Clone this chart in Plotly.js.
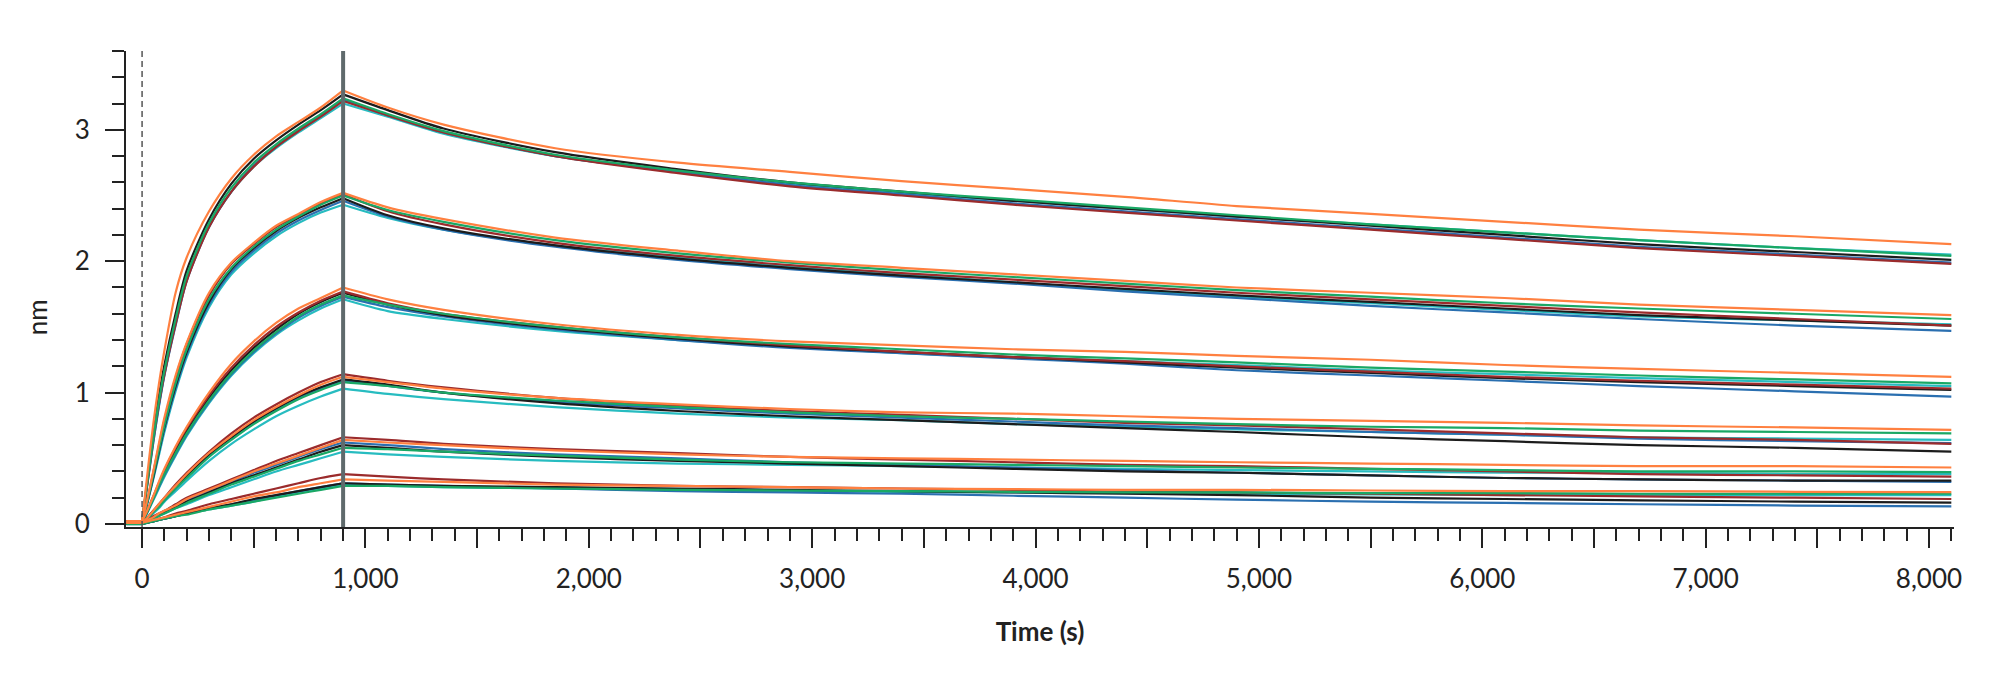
<!DOCTYPE html>
<html>
<head>
<meta charset="utf-8">
<script src="https://cdn.plot.ly/plotly-3.0.1.min.js"></script>
<style>
  html, body { margin: 0; padding: 0; background: #fff; }
  #chart { width: 2000px; height: 676px; }
</style>
</head>
<body>
<div id="chart"></div>
<script>
// sample times (s): baseline + association (to 900 s), then dissociation
var tAssoc = [-70, 0, 25, 50, 75, 100, 150, 200, 300, 400, 500, 600, 700, 800, 900];
var tDissoc = [1100, 1350, 1850, 2400, 2900, 3400, 3900, 4400, 4900, 5500, 6100, 6700, 7400, 8100];

// response (nm), one array per sensor colour and concentration (1 = highest)
var orange1 = [0.02, 0.02, 0.40, 0.76, 1.06, 1.32, 1.76, 2.03, 2.38, 2.63, 2.81, 2.95, 3.06, 3.17, 3.30, 3.17, 3.04, 2.86, 2.75, 2.68, 2.61, 2.55, 2.49, 2.42, 2.36, 2.30, 2.24, 2.19, 2.13];
var black1 = [0.02, 0.02, 0.35, 0.68, 0.97, 1.21, 1.60, 1.93, 2.32, 2.59, 2.78, 2.92, 3.04, 3.15, 3.27, 3.15, 3.01, 2.83, 2.70, 2.60, 2.53, 2.46, 2.40, 2.34, 2.27, 2.20, 2.13, 2.07, 2.01];
var red1 = [0.02, 0.02, 0.33, 0.64, 0.91, 1.14, 1.52, 1.85, 2.26, 2.53, 2.72, 2.87, 2.99, 3.10, 3.22, 3.11, 2.98, 2.80, 2.67, 2.57, 2.50, 2.43, 2.37, 2.31, 2.24, 2.17, 2.10, 2.04, 1.98];
var blue1 = [0.01, 0.01, 0.32, 0.62, 0.89, 1.13, 1.51, 1.85, 2.26, 2.53, 2.73, 2.87, 3.00, 3.11, 3.23, 3.11, 2.98, 2.80, 2.68, 2.58, 2.51, 2.44, 2.38, 2.32, 2.25, 2.18, 2.11, 2.05, 1.99];
var teal1 = [0.01, 0.01, 0.32, 0.62, 0.90, 1.14, 1.53, 1.86, 2.27, 2.53, 2.72, 2.86, 2.98, 3.09, 3.20, 3.10, 2.97, 2.80, 2.68, 2.59, 2.52, 2.46, 2.40, 2.34, 2.28, 2.22, 2.16, 2.10, 2.05];
var green1 = [0.02, 0.02, 0.34, 0.65, 0.93, 1.17, 1.56, 1.89, 2.29, 2.56, 2.75, 2.89, 3.01, 3.12, 3.24, 3.12, 2.99, 2.81, 2.69, 2.60, 2.53, 2.47, 2.41, 2.35, 2.28, 2.22, 2.16, 2.10, 2.04];

var orange2 = [0.02, 0.02, 0.20, 0.40, 0.61, 0.81, 1.13, 1.38, 1.76, 1.99, 2.14, 2.27, 2.36, 2.45, 2.52, 2.41, 2.32, 2.18, 2.08, 2.00, 1.95, 1.90, 1.85, 1.80, 1.76, 1.72, 1.67, 1.63, 1.59];
var red2 = [0.02, 0.02, 0.19, 0.39, 0.59, 0.79, 1.11, 1.37, 1.74, 1.98, 2.13, 2.26, 2.35, 2.44, 2.51, 2.38, 2.28, 2.14, 2.04, 1.97, 1.91, 1.86, 1.81, 1.76, 1.71, 1.66, 1.61, 1.56, 1.51];
var black2 = [0.01, 0.01, 0.18, 0.36, 0.55, 0.74, 1.05, 1.31, 1.69, 1.94, 2.10, 2.23, 2.33, 2.41, 2.48, 2.35, 2.25, 2.12, 2.02, 1.95, 1.89, 1.84, 1.79, 1.74, 1.69, 1.64, 1.59, 1.55, 1.51];
var green2 = [0.01, 0.01, 0.18, 0.37, 0.56, 0.75, 1.07, 1.33, 1.71, 1.95, 2.11, 2.24, 2.34, 2.43, 2.50, 2.39, 2.30, 2.16, 2.06, 1.99, 1.93, 1.88, 1.83, 1.78, 1.73, 1.68, 1.64, 1.60, 1.56];
var blue2 = [0.01, 0.01, 0.17, 0.35, 0.54, 0.72, 1.03, 1.29, 1.67, 1.92, 2.08, 2.21, 2.31, 2.39, 2.46, 2.34, 2.24, 2.11, 2.01, 1.94, 1.88, 1.83, 1.77, 1.72, 1.66, 1.61, 1.56, 1.51, 1.47];
var teal2 = [0.01, 0.01, 0.17, 0.34, 0.52, 0.70, 1.01, 1.27, 1.65, 1.90, 2.06, 2.19, 2.29, 2.37, 2.43, 2.33, 2.24, 2.12, 2.03, 1.96, 1.90, 1.84, 1.78, 1.73, 1.68, 1.63, 1.58, 1.55, 1.52];

var orange3 = [0.02, 0.02, 0.11, 0.21, 0.32, 0.42, 0.59, 0.74, 1.00, 1.22, 1.39, 1.53, 1.64, 1.72, 1.80, 1.71, 1.63, 1.52, 1.44, 1.39, 1.36, 1.33, 1.31, 1.28, 1.25, 1.21, 1.18, 1.15, 1.12];
var red3 = [0.02, 0.02, 0.11, 0.21, 0.31, 0.41, 0.58, 0.73, 0.98, 1.19, 1.36, 1.50, 1.61, 1.70, 1.77, 1.68, 1.60, 1.50, 1.42, 1.36, 1.31, 1.27, 1.24, 1.20, 1.16, 1.12, 1.09, 1.06, 1.03];
var black3 = [0.01, 0.01, 0.10, 0.20, 0.30, 0.39, 0.56, 0.71, 0.96, 1.17, 1.34, 1.48, 1.60, 1.69, 1.76, 1.67, 1.59, 1.49, 1.41, 1.35, 1.31, 1.27, 1.23, 1.19, 1.15, 1.11, 1.08, 1.05, 1.02];
var green3 = [0.01, 0.01, 0.10, 0.19, 0.29, 0.38, 0.54, 0.69, 0.94, 1.15, 1.32, 1.46, 1.58, 1.67, 1.74, 1.67, 1.60, 1.50, 1.42, 1.37, 1.33, 1.29, 1.26, 1.23, 1.19, 1.16, 1.13, 1.10, 1.07];
var blue3 = [0.01, 0.01, 0.10, 0.19, 0.28, 0.37, 0.53, 0.68, 0.93, 1.14, 1.31, 1.45, 1.57, 1.66, 1.73, 1.65, 1.58, 1.48, 1.40, 1.34, 1.30, 1.26, 1.22, 1.17, 1.13, 1.09, 1.05, 1.01, 0.97];
var teal3 = [0.01, 0.01, 0.09, 0.18, 0.27, 0.36, 0.52, 0.67, 0.92, 1.13, 1.30, 1.44, 1.55, 1.64, 1.71, 1.62, 1.56, 1.47, 1.40, 1.35, 1.30, 1.27, 1.24, 1.21, 1.17, 1.14, 1.11, 1.08, 1.05];

var orange4 = [0.01, 0.01, 0.05, 0.10, 0.15, 0.20, 0.29, 0.38, 0.54, 0.67, 0.79, 0.89, 0.98, 1.06, 1.12, 1.08, 1.03, 0.96, 0.91, 0.875, 0.85, 0.84, 0.82, 0.80, 0.785, 0.77, 0.75, 0.735, 0.717];
var red4 = [0.01, 0.01, 0.05, 0.10, 0.15, 0.20, 0.30, 0.39, 0.55, 0.69, 0.81, 0.91, 1.00, 1.08, 1.14, 1.09, 1.04, 0.96, 0.90, 0.86, 0.83, 0.80, 0.77, 0.75, 0.72, 0.69, 0.66, 0.64, 0.61];
var black4 = [0.01, 0.01, 0.05, 0.10, 0.14, 0.19, 0.28, 0.37, 0.53, 0.66, 0.78, 0.88, 0.97, 1.04, 1.10, 1.06, 1.00, 0.92, 0.86, 0.82, 0.79, 0.76, 0.73, 0.70, 0.66, 0.63, 0.60, 0.58, 0.55];
var blue4 = [0.01, 0.01, 0.05, 0.09, 0.14, 0.18, 0.27, 0.36, 0.52, 0.65, 0.77, 0.87, 0.96, 1.03, 1.09, 1.05, 1.00, 0.93, 0.88, 0.84, 0.81, 0.78, 0.75, 0.73, 0.70, 0.68, 0.65, 0.63, 0.615];
var green4 = [0.01, 0.01, 0.04, 0.09, 0.13, 0.18, 0.27, 0.35, 0.51, 0.64, 0.76, 0.86, 0.95, 1.02, 1.08, 1.05, 1.00, 0.94, 0.89, 0.85, 0.82, 0.80, 0.78, 0.76, 0.74, 0.73, 0.71, 0.70, 0.69];
var teal4 = [0.01, 0.01, 0.04, 0.08, 0.12, 0.17, 0.25, 0.33, 0.48, 0.61, 0.72, 0.82, 0.90, 0.97, 1.03, 0.99, 0.95, 0.89, 0.84, 0.81, 0.79, 0.76, 0.74, 0.72, 0.70, 0.68, 0.66, 0.65, 0.64];

var red5 = [0.01, 0.01, 0.03, 0.06, 0.08, 0.10, 0.15, 0.20, 0.27, 0.34, 0.41, 0.48, 0.54, 0.60, 0.66, 0.64, 0.61, 0.57, 0.54, 0.51, 0.49, 0.47, 0.45, 0.44, 0.42, 0.40, 0.38, 0.37, 0.36];
var orange5 = [0.01, 0.01, 0.03, 0.05, 0.08, 0.10, 0.14, 0.19, 0.26, 0.33, 0.40, 0.46, 0.52, 0.58, 0.64, 0.62, 0.60, 0.56, 0.53, 0.51, 0.50, 0.49, 0.48, 0.47, 0.46, 0.45, 0.44, 0.44, 0.43];
var blue5 = [0.01, 0.01, 0.03, 0.05, 0.07, 0.09, 0.14, 0.18, 0.25, 0.32, 0.39, 0.45, 0.51, 0.57, 0.62, 0.60, 0.57, 0.53, 0.50, 0.47, 0.45, 0.43, 0.41, 0.39, 0.37, 0.35, 0.34, 0.33, 0.32];
var black5 = [0.01, 0.01, 0.03, 0.05, 0.07, 0.09, 0.13, 0.17, 0.24, 0.31, 0.37, 0.43, 0.49, 0.55, 0.60, 0.58, 0.55, 0.51, 0.48, 0.46, 0.44, 0.42, 0.40, 0.39, 0.37, 0.35, 0.34, 0.33, 0.33];
var green5 = [0.00, 0.00, 0.02, 0.04, 0.06, 0.08, 0.12, 0.16, 0.23, 0.30, 0.36, 0.42, 0.48, 0.53, 0.58, 0.57, 0.55, 0.52, 0.49, 0.47, 0.46, 0.45, 0.44, 0.43, 0.42, 0.41, 0.40, 0.40, 0.395];
var teal5 = [0.00, 0.00, 0.02, 0.04, 0.06, 0.08, 0.12, 0.15, 0.22, 0.28, 0.34, 0.40, 0.45, 0.50, 0.55, 0.53, 0.51, 0.48, 0.46, 0.45, 0.44, 0.43, 0.42, 0.41, 0.40, 0.39, 0.39, 0.38, 0.38];

var red6 = [0.01, 0.01, 0.02, 0.03, 0.04, 0.05, 0.08, 0.10, 0.15, 0.19, 0.23, 0.27, 0.31, 0.35, 0.38, 0.36, 0.34, 0.31, 0.29, 0.28, 0.27, 0.26, 0.245, 0.24, 0.23, 0.22, 0.21, 0.20, 0.19];
var orange6 = [0.01, 0.01, 0.02, 0.03, 0.04, 0.05, 0.07, 0.09, 0.13, 0.17, 0.21, 0.24, 0.28, 0.31, 0.34, 0.33, 0.32, 0.30, 0.29, 0.28, 0.27, 0.265, 0.26, 0.26, 0.255, 0.25, 0.25, 0.245, 0.243];
var black6 = [0.00, 0.00, 0.01, 0.02, 0.03, 0.04, 0.06, 0.08, 0.12, 0.15, 0.19, 0.22, 0.25, 0.28, 0.31, 0.30, 0.29, 0.28, 0.27, 0.26, 0.25, 0.24, 0.23, 0.22, 0.20, 0.19, 0.18, 0.17, 0.162];
var blue6 = [0.00, 0.00, 0.01, 0.02, 0.03, 0.04, 0.06, 0.08, 0.12, 0.15, 0.18, 0.22, 0.25, 0.28, 0.31, 0.30, 0.29, 0.27, 0.25, 0.24, 0.23, 0.215, 0.20, 0.185, 0.17, 0.16, 0.15, 0.14, 0.134];
var green6 = [0.00, 0.00, 0.01, 0.02, 0.03, 0.04, 0.06, 0.07, 0.11, 0.14, 0.17, 0.20, 0.23, 0.26, 0.29, 0.29, 0.28, 0.27, 0.26, 0.255, 0.25, 0.245, 0.24, 0.24, 0.235, 0.235, 0.23, 0.23, 0.23];
var teal6 = [0.00, 0.00, 0.01, 0.02, 0.03, 0.04, 0.06, 0.08, 0.11, 0.14, 0.17, 0.21, 0.24, 0.27, 0.30, 0.29, 0.28, 0.27, 0.26, 0.25, 0.245, 0.24, 0.235, 0.23, 0.225, 0.22, 0.22, 0.22, 0.22];

// x tick labels every 500 s, labelled every 1000 s
var xTickVals = [0, 500, 1000, 1500, 2000, 2500, 3000, 3500, 4000, 4500, 5000, 5500, 6000, 6500, 7000, 7500, 8000];
var xTickText = ['0', '', '1,000', '', '2,000', '', '3,000', '', '4,000', '', '5,000', '', '6,000', '', '7,000', '', '8,000'];

var colors = {
  teal: '#27bcc0',
  blue: '#2a6fb0',
  black: '#1c1c1c',
  red: '#9b2b2c',
  green: '#1aa865',
  orange: '#ff8040'
};

// drawn bottom to top
var series = [
  ['teal', [teal1, teal2, teal3, teal4, teal5, teal6]],
  ['blue', [blue1, blue2, blue3, blue4, blue5, blue6]],
  ['black', [black1, black2, black3, black4, black5, black6]],
  ['red', [red1, red2, red3, red4, red5, red6]],
  ['green', [green1, green2, green3, green4, green5, green6]],
  ['orange', [orange1, orange2, orange3, orange4, orange5, orange6]]
];

var nA = tAssoc.length;
var data = [];
function addLine(xs, ys, color, shape) {
  data.push({
    x: xs, y: ys, mode: 'lines', type: 'scatter',
    line: {color: color, width: 2.2, shape: shape, smoothing: 0.8},
    hoverinfo: 'skip'
  });
}
series.forEach(function (s) {
  var c = colors[s[0]];
  s[1].forEach(function (ys) {
    // flat baseline, association, dissociation (each phase smoothed on its own)
    addLine(tAssoc.slice(0, 2), ys.slice(0, 2), c, 'linear');
    addLine(tAssoc.slice(1), ys.slice(1, nA), c, 'spline');
    addLine([tAssoc[nA - 1]].concat(tDissoc), ys.slice(nA - 1), c, 'spline');
  });
});

var axisFont = {family: 'Lato, "Open Sans", sans-serif', size: 26, color: '#222'};

var layout = {
  width: 2000,
  height: 676,
  showlegend: false,
  paper_bgcolor: '#fff',
  plot_bgcolor: '#fff',
  margin: {l: 126, r: 46, t: 51, b: 149},
  font: axisFont,
  xaxis: {
    range: [-72, 8112],
    showgrid: false,
    zeroline: false,
    showline: true,
    linecolor: '#222',
    linewidth: 2,
    ticks: 'outside',
    ticklen: 19,
    tickwidth: 2,
    tickcolor: '#222',
    tickmode: 'array',
    tickvals: xTickVals,
    ticktext: xTickText,
    ticklabelstandoff: 9,
    tickfont: axisFont,
    minor: {ticks: 'outside', tick0: 0, dtick: 100, ticklen: 12, tickwidth: 2, tickcolor: '#222'},
    title: {text: 'Time (s)', standoff: 30, font: {family: 'Lato, sans-serif', size: 26, color: '#222', weight: 'bold'}}
  },
  yaxis: {
    range: [-0.023, 3.6],
    showgrid: false,
    zeroline: false,
    showline: true,
    linecolor: '#222',
    linewidth: 2,
    ticks: 'outside',
    ticklen: 19,
    tickwidth: 2,
    tickcolor: '#222',
    tick0: 0,
    dtick: 1,
    ticklabelstandoff: 10,
    tickfont: axisFont,
    minor: {ticks: 'outside', tick0: 0, dtick: 0.2, ticklen: 12, tickwidth: 2, tickcolor: '#222'}
  },
  annotations: [{
    text: 'nm', xref: 'paper', yref: 'paper', x: -0.0488, y: 0.44,
    xanchor: 'center', yanchor: 'middle', textangle: -90, showarrow: false,
    font: axisFont
  }],
  shapes: [
    {type: 'line', xref: 'x', yref: 'paper', x0: 0, x1: 0, y0: 0, y1: 1, layer: 'above',
     line: {color: '#555', width: 1.5, dash: '6px,4px'}},
    {type: 'line', xref: 'x', yref: 'paper', x0: 900, x1: 900, y0: 0, y1: 1, layer: 'above',
     line: {color: '#5f6a6c', width: 4}}
  ]
};

Plotly.newPlot('chart', data, layout, {displayModeBar: false, staticPlot: true});
</script>
</body>
</html>
